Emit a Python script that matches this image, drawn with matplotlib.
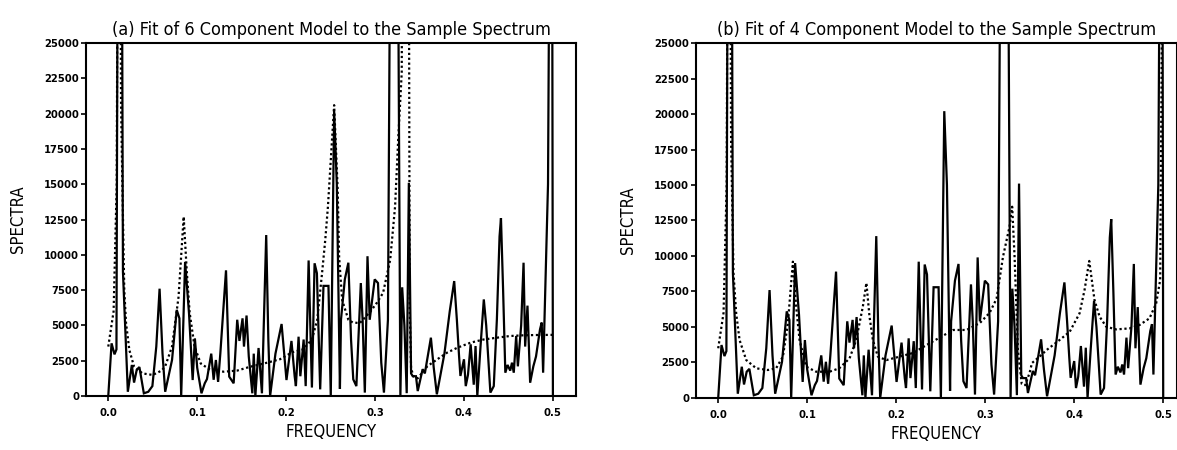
import matplotlib
matplotlib.use('Agg')
import matplotlib.pyplot as plt

# sample spectrum (solid line)
sample_freq = [0.0, 0.0037, 0.007, 0.0092, 0.0118, 0.014, 0.0165, 0.022, 0.0265, 0.029,
               0.032, 0.035, 0.04, 0.045, 0.0496, 0.054, 0.0577, 0.061, 0.064, 0.0717,
               0.077, 0.08, 0.082, 0.0864, 0.0908, 0.0949, 0.0974, 0.1, 0.1048, 0.1085,
               0.111, 0.1158, 0.1185, 0.121, 0.1235, 0.126, 0.1287, 0.1324, 0.136, 0.141,
               0.145, 0.1475, 0.151, 0.1526, 0.1555, 0.158, 0.162, 0.1636, 0.1654, 0.169,
               0.1728, 0.1776, 0.18, 0.182, 0.188, 0.1949, 0.2004, 0.206, 0.2096, 0.211,
               0.214, 0.216, 0.2197, 0.222, 0.2253, 0.229, 0.232, 0.2346, 0.2383, 0.242,
               0.2476, 0.2502, 0.254, 0.257, 0.2605, 0.2617, 0.266, 0.27, 0.273, 0.2755,
               0.279, 0.284, 0.286, 0.2885, 0.2915, 0.294, 0.2996, 0.3033, 0.307, 0.31,
               0.3145, 0.3195, 0.3235, 0.3285, 0.3305, 0.333, 0.3356, 0.338, 0.3405, 0.3424,
               0.346, 0.348, 0.3535, 0.356, 0.3628, 0.366, 0.3695, 0.378, 0.384, 0.389,
               0.392, 0.3944, 0.396, 0.4, 0.402, 0.4045, 0.4075, 0.411, 0.413, 0.415,
               0.4186, 0.4223, 0.425, 0.427, 0.4297, 0.4335, 0.437, 0.44, 0.4416, 0.444,
               0.4465, 0.449, 0.452, 0.454, 0.456, 0.4587, 0.4606, 0.4643, 0.467, 0.4688,
               0.4714, 0.4744, 0.478, 0.481, 0.4855, 0.4874, 0.489, 0.4945, 0.4985, 0.5]
sample_spec = [0, 3730, 2950, 3300, 60000, 60000, 8800, 300, 2200, 950,
               1850, 2050, 190, 300, 700, 3500, 7600, 3000, 300, 2550,
               6100, 5500, 0, 9500, 5850, 1130, 4080, 2000, 190, 900,
               1200, 3000, 1150, 2550, 1000, 3000, 5500, 8900, 1370, 900,
               5400, 3900, 5500, 3500, 5700, 2800, 190, 3000, 0, 3400,
               190, 11400, 4000, 0, 3000, 5100, 1130, 3900, 1400, 700,
               4200, 1400, 4000, 700, 9600, 600, 9400, 8700, 470, 7800,
               7800, 0, 20200, 15000, 500, 5400, 8260, 9440, 4000, 1180,
               700, 8000, 5400, 240, 9900, 5400, 8260, 8000, 2360, 240,
               5400, 60000, 60000, 0, 7700, 5000, 200, 15100, 1600, 1400,
               1400, 350, 1900, 1600, 4130, 2000, 120, 3000, 6000, 8140,
               5400, 2900, 1420, 2600, 700, 1500, 3660, 800, 3540, 0,
               3500, 6840, 5000, 3000, 240, 700, 5430, 11300, 12600, 7500,
               1650, 2200, 1800, 2360, 1650, 4250, 2100, 5000, 9440, 3500,
               6400, 940, 2100, 2800, 4720, 5200, 1650, 15000, 60000, 0]

# fitted 6 component model (dotted, panel a)
fit6_freq = [0.0, 0.006, 0.0095, 0.012, 0.0144, 0.0163, 0.018, 0.02, 0.0237, 0.029,
             0.0385, 0.05, 0.06, 0.064, 0.0717, 0.079, 0.0848, 0.0882, 0.0915, 0.097,
             0.104, 0.115, 0.13, 0.145, 0.16, 0.175, 0.193, 0.207, 0.219, 0.229,
             0.235, 0.2404, 0.244, 0.247, 0.254, 0.258, 0.2596, 0.263, 0.27, 0.275,
             0.283, 0.295, 0.302, 0.309, 0.317, 0.3225, 0.326, 0.33, 0.332, 0.334,
             0.337, 0.339, 0.3405, 0.343, 0.348, 0.359, 0.37, 0.381, 0.3926, 0.4075,
             0.422, 0.437, 0.452, 0.467, 0.482, 0.5]
fit6_spec = [3500, 6000, 15000, 60000, 20500, 13400, 7500, 5150, 3260, 2080,
             1600, 1490, 1800, 2100, 3500, 7000, 12700, 8900, 5900, 3500,
             2300, 1840, 1720, 1800, 2080, 2300, 2600, 3100, 3300, 4000,
             5400, 8700, 11050, 13400, 20600, 14600, 9840, 6800, 5400, 5200,
             5170, 6000, 6600, 7300, 9630, 13400, 18130, 22900, 60000, 35000,
             60000, 6000, 2000, 1400, 1250, 2120, 2600, 3070, 3420, 3780,
             4000, 4130, 4250, 4300, 4320, 4330]

# fitted 4 component model (dotted, panel b)
fit4_freq = [0.0, 0.006, 0.0095, 0.012, 0.0145, 0.0172, 0.0202, 0.024, 0.0315, 0.0427,
             0.0558, 0.065, 0.0727, 0.0783, 0.0839, 0.0876, 0.0914, 0.0989, 0.11, 0.125,
             0.136, 0.1476, 0.155, 0.1625, 0.1665, 0.17, 0.1738, 0.1794, 0.189, 0.2,
             0.219, 0.238, 0.264, 0.279, 0.294, 0.305, 0.3128, 0.32, 0.3273, 0.3303,
             0.333, 0.3367, 0.341, 0.345, 0.35, 0.3525, 0.361, 0.369, 0.3835, 0.395,
             0.406, 0.4116, 0.4169, 0.4228, 0.4285, 0.436, 0.447, 0.462, 0.4734, 0.4846,
             0.4921, 0.4966, 0.5]
fit4_spec = [3500, 6000, 15000, 60000, 18000, 8780, 5960, 4080, 2670, 2090,
             1970, 2090, 2910, 5260, 9600, 6430, 4080, 2200, 1850, 1850,
             2090, 2790, 4080, 6430, 8100, 5730, 4080, 2910, 2670, 2850,
             3170, 3870, 4790, 4790, 5280, 6000, 7000, 9950, 12060, 13470,
             9950, 3380, 1000, 900, 1800, 2460, 2910, 3380, 4080, 4670,
             5960, 7600, 9650, 6900, 5730, 5020, 4830, 4900, 5140, 5610,
             6670, 8310, 40000]

titles = ['(a) Fit of 6 Component Model to the Sample Spectrum',
          '(b) Fit of 4 Component Model to the Sample Spectrum']
yticks = list(range(0, 25001, 2500))
xticks = [0.0, 0.1, 0.2, 0.3, 0.4, 0.5]

plt.rcParams['font.family'] = 'DejaVu Sans'
plt.rcParams['font.stretch'] = 'condensed'
plt.rcParams['font.weight'] = 'bold'

fig = plt.figure(figsize=(11.77, 4.5), dpi=100)
ax1 = fig.add_axes([0.0731, 0.12, 0.4163, 0.7844])
ax2 = fig.add_axes([0.5913, 0.1156, 0.4087, 0.7888])

panels = [(ax1, fit6_freq, fit6_spec, 0.526), (ax2, fit4_freq, fit4_spec, 0.5155)]
for i, (ax, mf, ms, xr) in enumerate(panels):
    ax.plot(sample_freq, sample_spec, color='black', lw=1.6, solid_joinstyle='miter')
    ax.plot(mf, ms, color='black', lw=1.6, linestyle=(0, (1, 1.2)))
    ax.set_xlim(-0.025, xr)
    ax.set_ylim(0, 25000)
    ax.set_xticks(xticks)
    ax.set_xticklabels(['%.1f' % t for t in xticks])
    ax.set_yticks(yticks)
    ax.set_yticklabels([str(t) for t in yticks])
    ax.tick_params(direction='out', length=3.5, width=1.2, labelsize=8, pad=1.5)
    ax.tick_params(axis='x', pad=5)
    for sp in ax.spines.values():
        sp.set_linewidth(1.5)
    ax.set_title(titles[i], fontsize=13, fontweight='normal', pad=6)
    ax.set_xlabel('FREQUENCY', fontsize=12, labelpad=4)
    ax.set_ylabel('SPECTRA', fontsize=12, labelpad=12)

fig.savefig('out.png', dpi=100)
